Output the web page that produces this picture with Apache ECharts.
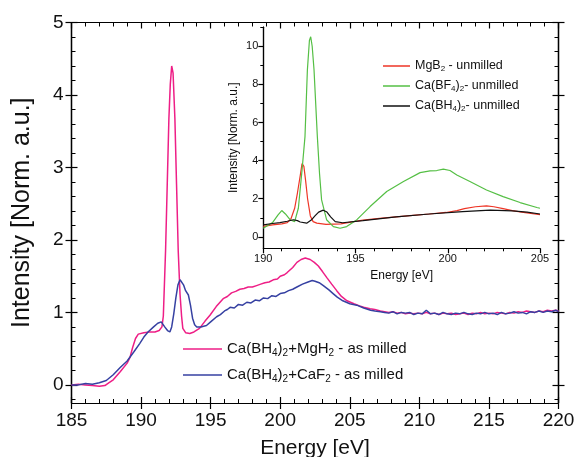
<!DOCTYPE html>
<html><head><meta charset="utf-8">
<script src="https://cdn.jsdelivr.net/npm/echarts@6/dist/echarts.min.js"></script>
<style>html,body{margin:0;padding:0;background:#fff}#c{width:575px;height:457px}</style>
</head><body><div id="c"></div>
<script>
// ---------- main chart data ----------
const pinkE = [185.0,185.5,186.0,186.5,187.0,187.4,187.7,188.0,188.5,189.0,189.2,189.4,189.6,189.8,190.2,190.6,191.0,191.3,191.5,191.6,191.76,191.88,192.0,192.1,192.2,192.3,192.43,192.55,192.67,192.8,192.91,193.0,193.2,193.5,193.8,194.2,194.6,194.95,195.4,195.9,196.2,196.5,196.8,197.1,197.4,197.7,198.0,198.3,198.6,198.9,199.2,199.5,199.8,200.0,200.3,200.5,200.9,201.2,201.5,201.8,202.15,202.45,202.74,203.05,203.35,203.7,204.06,204.4,204.8,205.3,205.7,206.0,206.46,206.8,207.2,207.5,207.8,208.1,208.4,208.7,209.0,209.3,209.6,209.9,210.2,210.5,210.8,211.1,211.4,211.7,212.0,212.3,212.6,212.9,213.2,213.5,213.8,214.1,214.4,214.7,215.0,215.3,215.6,215.9,216.2,216.5,216.8,217.1,217.4,217.7,218.0,218.3,218.6,218.9,219.2,219.5,219.8,220.0];
const pinkI = [0.00,0.01,0.00,-0.01,-0.02,-0.01,0.03,0.07,0.18,0.30,0.38,0.52,0.64,0.70,0.72,0.73,0.73,0.75,0.80,0.95,1.85,2.76,3.68,4.15,4.40,4.30,3.68,2.76,1.85,1.25,0.95,0.78,0.72,0.71,0.73,0.78,0.88,0.96,1.08,1.19,1.22,1.27,1.29,1.32,1.33,1.35,1.35,1.37,1.39,1.41,1.42,1.45,1.46,1.50,1.52,1.55,1.62,1.69,1.73,1.75,1.73,1.69,1.64,1.56,1.48,1.39,1.30,1.22,1.16,1.12,1.09,1.07,1.05,1.04,1.02,1.01,1.00,1.01,0.99,1.00,0.98,0.99,0.98,0.99,0.98,1.00,0.98,0.99,0.97,0.99,0.98,0.99,0.97,0.98,0.99,0.97,0.99,0.98,1.00,0.98,0.99,0.98,1.00,0.99,0.98,1.00,0.99,1.01,1.00,1.02,1.01,1.00,1.02,1.01,1.03,1.02,1.03,1.02];
const blueE = [185.0,185.5,186.0,186.5,187.0,187.5,188.0,188.5,189.0,189.5,189.9,190.2,190.5,190.9,191.2,191.45,191.7,191.9,192.07,192.2,192.35,192.5,192.65,192.8,192.9,193.05,193.2,193.4,193.55,193.7,193.85,194.0,194.3,194.7,195.0,195.43,195.7,196.0,196.2,196.4,196.7,197.0,197.3,197.6,197.9,198.2,198.5,198.8,199.1,199.4,199.7,200.0,200.3,200.6,200.9,201.2,201.6,202.0,202.3,202.5,202.8,203.1,203.5,203.8,204.1,204.5,205.0,205.5,206.0,206.5,206.8,207.2,207.5,207.8,208.1,208.4,208.7,209.0,209.3,209.6,209.9,210.2,210.5,210.8,211.1,211.4,211.7,212.0,212.3,212.6,212.9,213.2,213.5,213.8,214.1,214.4,214.7,215.0,215.3,215.6,215.9,216.2,216.5,216.8,217.1,217.4,217.7,218.0,218.3,218.6,218.9,219.2,219.5,219.8,220.0];
const blueI = [0.00,0.00,0.02,0.01,0.03,0.06,0.14,0.24,0.33,0.46,0.57,0.66,0.73,0.80,0.85,0.87,0.80,0.75,0.73,0.80,0.98,1.20,1.38,1.45,1.46,1.38,1.30,1.24,1.10,0.92,0.83,0.80,0.80,0.82,0.87,0.94,0.97,1.02,1.04,1.07,1.06,1.11,1.10,1.14,1.13,1.17,1.16,1.20,1.19,1.23,1.22,1.26,1.27,1.30,1.32,1.35,1.39,1.42,1.44,1.43,1.41,1.37,1.31,1.26,1.21,1.16,1.12,1.10,1.06,1.03,1.02,1.01,1.00,0.99,1.01,0.98,1.00,0.99,1.00,0.97,0.99,0.98,1.03,0.98,0.99,0.97,1.00,0.98,0.97,0.99,0.98,1.00,0.98,0.97,0.99,0.98,1.00,0.98,0.99,0.97,1.00,0.98,0.99,1.01,0.99,1.00,0.98,1.01,1.00,1.02,1.00,1.02,1.01,1.03,1.01];
// ---------- inset data ----------
const redE = [190.0,190.5,191.0,191.3,191.5,191.7,191.85,192.0,192.1,192.2,192.3,192.4,192.55,192.7,192.9,193.4,194.2,194.9,195.4,196.3,197.2,198.1,199.0,199.9,200.5,200.9,201.5,202.1,202.5,203.0,203.5,204.0,204.5,205.0];
const redI = [0.55,0.63,0.68,0.75,0.95,1.5,2.3,3.2,3.85,3.7,2.9,2.0,1.1,0.8,0.72,0.66,0.68,0.8,0.88,0.97,1.05,1.13,1.2,1.28,1.38,1.48,1.58,1.63,1.58,1.48,1.38,1.3,1.23,1.17];
const greenE = [190.0,190.5,190.8,191.0,191.2,191.45,191.7,191.9,192.1,192.26,192.39,192.5,192.57,192.65,192.75,192.93,193.05,193.16,193.43,193.8,194.16,194.52,195.06,195.79,196.69,197.6,198.5,199.04,199.4,199.76,200.12,200.49,201.2,202.1,203.0,203.92,204.83,205.0];
const greenI = [0.45,0.75,1.15,1.38,1.2,0.9,0.8,1.5,3.5,5.26,8.76,10.3,10.5,10.0,8.76,5.26,3.3,1.94,0.9,0.54,0.45,0.54,0.89,1.59,2.38,2.9,3.37,3.46,3.48,3.55,3.48,3.25,2.9,2.46,2.11,1.8,1.54,1.5];
const blackE = [190.0,190.5,190.9,191.3,191.63,191.85,192.0,192.35,192.6,192.8,193.0,193.25,193.45,193.65,193.9,194.3,195.4,197.2,199.0,200.8,202.3,203.5,204.3,205.0];
const blackI = [0.63,0.7,0.75,0.82,0.9,0.85,0.78,0.72,0.88,1.1,1.3,1.4,1.3,1.05,0.8,0.74,0.85,1.05,1.2,1.32,1.4,1.36,1.3,1.2];

// ---------- names / ticks ----------
const mainNames = ['Ca(BH4)2+MgH2 - as milled','Ca(BH4)2+CaF2 - as milled'];
const mainLabels = ['Ca(BH{s|4}){s|2}+MgH{s|2} - as milled','Ca(BH{s|4}){s|2}+CaF{s|2} - as milled'];
const insetNames = ['MgB2 - unmilled','Ca(BF4)2- unmilled','Ca(BH4)2- unmilled'];
const insetLabels = ['MgB{s|2} - unmilled','Ca(BF{s|4}){s|2}- unmilled','Ca(BH{s|4}){s|2}- unmilled'];
const mainYMajor = [0,1,2,3,4,5];
const mainYMinor = [-0.2,0.2,0.4,0.6,0.8,1.2,1.4,1.6,1.8,2.2,2.4,2.6,2.8,3.2,3.4,3.6,3.8,4.2,4.4,4.6,4.8];
const insetYMajor = [0,2,4,6,8,10];
const insetYMinor = [1,3,5,7,9,11];

const colors = {pink:'#ee1e86', blue:'#3641a2', red:'#ee3526', green:'#55bf45', black:'#111111'};
const zip = (a,b) => a.map((v,i)=>[v,b[i]]);
const FONT = 'Liberation Sans, Arial, sans-serif';
const AX = {onZero:false,lineStyle:{color:'#000',width:1.2}};
const TK = {lineStyle:{color:'#000',width:1.2}};

const mainX = {gridIndex:0,type:'value',min:185,max:220,interval:5,splitLine:{show:false}};
const mainY = {gridIndex:0,type:'value',min:-0.25,max:5,splitLine:{show:false}};
const insX = {gridIndex:1,type:'value',min:190,max:205,interval:5,splitLine:{show:false}};
const insY = {gridIndex:1,type:'value',min:-0.6,max:11,splitLine:{show:false}};
const noLabel = {show:false};

const chart = echarts.init(document.getElementById('c'));
const labelMap = {};
mainNames.forEach((n,i)=>labelMap[n]=mainLabels[i]);
insetNames.forEach((n,i)=>labelMap[n]=insetLabels[i]);

chart.setOption({
  animation:false,
  textStyle:{fontFamily:FONT},
  grid:[
    {left:71.5,right:16.5,top:22.5,bottom:54,outerBoundsMode:'none',containLabel:false},
    {left:263.3,top:27.2,width:276.7,height:221.1,outerBoundsMode:'none',containLabel:false}
  ],
  xAxis:[
    Object.assign({},mainX,{position:'bottom',axisLine:AX,axisTick:Object.assign({inside:false,length:6},TK),
      axisLabel:{fontSize:19,color:'#111',margin:8},
      name:'Energy [eV]',nameLocation:'middle',nameGap:35,nameTextStyle:{fontSize:21,color:'#111'}}),
    Object.assign({},mainX,{position:'bottom',axisLine:AX,axisTick:Object.assign({inside:true,length:6},TK),
      minorTick:{show:true,splitNumber:5,length:4,lineStyle:{color:'#000',width:1}},axisLabel:noLabel}),
    Object.assign({},mainX,{position:'top',axisLine:AX,axisTick:Object.assign({inside:true,length:6},TK),
      minorTick:{show:true,splitNumber:5,length:4,lineStyle:{color:'#000',width:1}},axisLabel:noLabel}),
    Object.assign({},insX,{position:'bottom',axisLine:AX,axisTick:Object.assign({inside:false,length:5},TK),
      minorTick:{show:true,splitNumber:5,length:3,lineStyle:{color:'#000',width:1}},
      axisLabel:{fontSize:11,color:'#111',margin:5},
      name:'Energy [eV]',nameLocation:'middle',nameGap:21,nameTextStyle:{fontSize:12,color:'#111'}})
  ],
  yAxis:[
    Object.assign({},mainY,{position:'left',axisLine:AX,axisTick:Object.assign({inside:false,length:6,customValues:mainYMajor},TK),
      axisLabel:{fontSize:19,color:'#111',margin:8,customValues:mainYMajor},
      name:'Intensity [Norm. a.u.]',nameLocation:'middle',nameGap:37,nameTextStyle:{fontSize:25,color:'#111'}}),
    Object.assign({},mainY,{position:'left',axisLine:AX,axisTick:Object.assign({inside:true,length:6,customValues:mainYMajor},TK),axisLabel:noLabel}),
    Object.assign({},mainY,{position:'left',axisLine:AX,axisTick:{inside:true,length:4,customValues:mainYMinor,lineStyle:{color:'#000',width:1}},axisLabel:noLabel}),
    Object.assign({},mainY,{position:'right',axisLine:AX,axisTick:Object.assign({inside:false,length:6,customValues:mainYMajor},TK),axisLabel:noLabel}),
    Object.assign({},mainY,{position:'right',axisLine:AX,axisTick:Object.assign({inside:true,length:6,customValues:mainYMajor},TK),axisLabel:noLabel}),
    Object.assign({},mainY,{position:'right',axisLine:AX,axisTick:{inside:true,length:4,customValues:mainYMinor,lineStyle:{color:'#000',width:1}},axisLabel:noLabel}),
    Object.assign({},insY,{position:'left',axisLine:AX,axisTick:Object.assign({inside:false,length:5,customValues:insetYMajor},TK),
      axisLabel:{fontSize:11,color:'#111',margin:5,customValues:insetYMajor},
      name:'Intensity [Norm. a.u.]',nameLocation:'middle',nameGap:24,nameTextStyle:{fontSize:12,color:'#111'}}),
    Object.assign({},insY,{position:'left',axisLine:AX,axisTick:{inside:false,length:3,customValues:insetYMinor,lineStyle:{color:'#000',width:1}},axisLabel:noLabel})
  ],
  legend:[
    {data:mainNames,orient:'vertical',left:183,top:338,padding:0,icon:'rect',itemWidth:39,itemHeight:1.5,itemGap:6,
      formatter:n=>labelMap[n],
      textStyle:{fontSize:15,color:'#111',lineHeight:18,rich:{s:{fontSize:10,lineHeight:8,padding:[10,0,0,0],verticalAlign:'bottom',color:'#111'}}}},
    {data:insetNames,orient:'vertical',left:383,top:57,padding:0,icon:'rect',itemWidth:27,itemHeight:1.5,itemGap:4,
      formatter:n=>labelMap[n],
      textStyle:{fontSize:12.5,color:'#111',lineHeight:14,rich:{s:{fontSize:8,lineHeight:6,padding:[8,0,0,0],verticalAlign:'bottom',color:'#111'}}}}
  ],
  series:[
    {name:mainNames[0],type:'line',xAxisIndex:0,yAxisIndex:0,data:zip(pinkE,pinkI),showSymbol:false,symbol:'none',color:colors.pink,lineStyle:{width:1.5,color:colors.pink}},
    {name:mainNames[1],type:'line',xAxisIndex:0,yAxisIndex:0,data:zip(blueE,blueI),showSymbol:false,symbol:'none',color:colors.blue,lineStyle:{width:1.5,color:colors.blue}},
    {name:insetNames[0],type:'line',xAxisIndex:3,yAxisIndex:6,data:zip(redE,redI),showSymbol:false,symbol:'none',color:colors.red,lineStyle:{width:1.2,color:colors.red}},
    {name:insetNames[1],type:'line',xAxisIndex:3,yAxisIndex:6,data:zip(greenE,greenI),showSymbol:false,symbol:'none',color:colors.green,lineStyle:{width:1.2,color:colors.green}},
    {name:insetNames[2],type:'line',xAxisIndex:3,yAxisIndex:6,data:zip(blackE,blackI),showSymbol:false,symbol:'none',color:colors.black,lineStyle:{width:1.2,color:colors.black}}
  ]
});
</script></body></html>
